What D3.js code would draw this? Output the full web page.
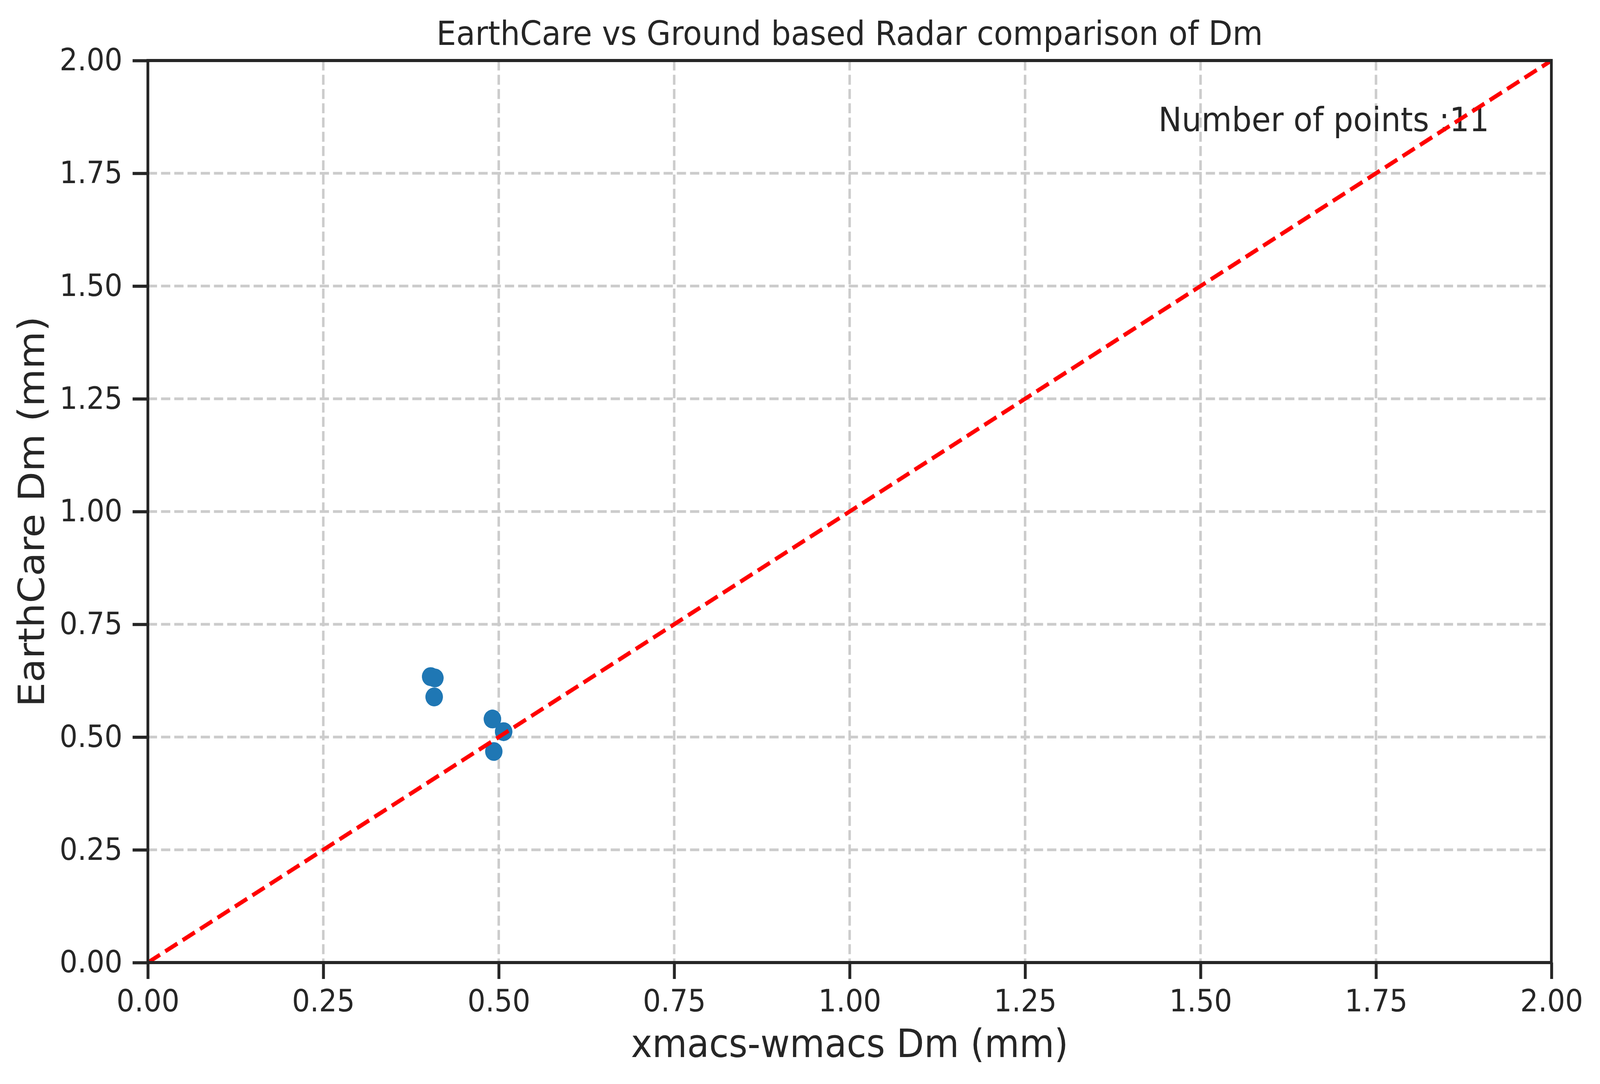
<!DOCTYPE html>
<html>
<head>
<meta charset="utf-8">
<script src="https://cdn.jsdelivr.net/npm/d3@7"></script>
<style>
  html, body { margin: 0; padding: 0; background: #ffffff; overflow: hidden; width: 100%; height: 100%; }
  svg { display: block; position: fixed; left: 0; top: 0; width: 100vw; height: 100vh; }
  text { font-family: "DejaVu Sans", sans-serif; fill: #262626; }
</style>
</head>
<body>
<script>
// ---- data ----
const xmacsDm = [0.403, 0.409, 0.408, 0.491, 0.507, 0.493, 0.403, 0.409, 0.408, 0.491, 0.507];
const earthcareDm = [0.634, 0.631, 0.589, 0.540, 0.512, 0.468, 0.634, 0.631, 0.589, 0.540, 0.512];
const xTicks = [0, 0.25, 0.5, 0.75, 1.0, 1.25, 1.5, 1.75, 2.0];
const yTicks = [0, 0.25, 0.5, 0.75, 1.0, 1.25, 1.5, 1.75, 2.0];
const oneToOne = [[0, 0], [2, 2]];
const titleText = "EarthCare vs Ground based Radar comparison of Dm";
const xLabelText = "xmacs-wmacs Dm (mm)";
const yLabelText = "EarthCare Dm (mm)";
const annotationText = "Number of points :" + xmacsDm.length;

(function () {
// ---- layout ----
const W = 4416, H = 2776;
const pLeft = 408, pRight = 4282, pTop = 155, pBottom = 2465;

const svg = d3.select("body").append("svg")
  .attr("viewBox", `0 0 ${W} ${H}`)
  .attr("preserveAspectRatio", "none");
svg.append("rect").attr("width", W).attr("height", H).attr("fill", "#ffffff");

const x = d3.scaleLinear().domain([0, 2]).range([pLeft, pRight]);
const y = d3.scaleLinear().domain([0, 2]).range([pBottom, pTop]);

// grid
const grid = svg.append("g");
grid.selectAll(".vg").data(xTicks).join("line")
  .attr("x1", d => x(d)).attr("x2", d => x(d))
  .attr("y1", pTop).attr("y2", pBottom)
  .attr("stroke", "#cccccc").attr("stroke-width", 6.9)
  .attr("stroke-dasharray", "25.5,11");
grid.selectAll(".hg").data(yTicks).join("line")
  .attr("y1", d => y(d)).attr("y2", d => y(d))
  .attr("x1", pLeft).attr("x2", pRight)
  .attr("stroke", "#cccccc").attr("stroke-width", 6.9)
  .attr("stroke-dasharray", "25.5,11");

// points
svg.append("g").selectAll("circle").data(xmacsDm.map((v, i) => [v, earthcareDm[i]]))
  .join("circle")
  .attr("cx", d => x(d[0])).attr("cy", d => y(d[1]))
  .attr("r", 24).attr("fill", "#1f77b4");

// annotation text
svg.append("text")
  .attr("x", x(1.44)).attr("y", 336)
  .attr("font-size", 86)
  .text(annotationText);

// 1:1 line
svg.append("path")
  .datum(oneToOne)
  .attr("d", d3.line().x(d => x(d[0])).y(d => y(d[1])))
  .attr("fill", "none").attr("stroke", "#ff0000")
  .attr("stroke-width", 10.6)
  .attr("stroke-dasharray", "39,17");

// axes
const xAxis = d3.axisBottom(x).tickValues(xTicks).tickSize(42).tickPadding(28)
  .tickFormat(d3.format(".2f"));
const yAxis = d3.axisLeft(y).tickValues(yTicks).tickSize(42).tickPadding(28)
  .tickFormat(d3.format(".2f"));

const gx = svg.append("g").attr("transform", `translate(0,${pBottom})`).call(xAxis);
const gy = svg.append("g").attr("transform", `translate(${pLeft},0)`).call(yAxis);
[gx, gy].forEach(g => {
  g.select(".domain").remove();
  g.selectAll(".tick line").attr("stroke", "#262626").attr("stroke-width", 8);
  g.selectAll(".tick text").attr("fill", "#262626")
    .attr("font-size", 78).attr("font-family", "DejaVu Sans, sans-serif");
});

// spines
svg.append("rect")
  .attr("x", pLeft).attr("y", pTop)
  .attr("width", pRight - pLeft).attr("height", pBottom - pTop)
  .attr("fill", "none").attr("stroke", "#262626").attr("stroke-width", 8)
  .attr("stroke-linejoin", "miter");

// title and labels
svg.append("text")
  .attr("x", (pLeft + pRight) / 2).attr("y", 115)
  .attr("text-anchor", "middle").attr("font-size", 86)
  .text(titleText);
svg.append("text")
  .attr("x", (pLeft + pRight) / 2).attr("y", 2707)
  .attr("text-anchor", "middle").attr("font-size", 99)
  .text(xLabelText);
svg.append("text")
  .attr("transform", `translate(122,${(pTop + pBottom) / 2}) rotate(-90)`)
  .attr("text-anchor", "middle").attr("font-size", 99)
  .text(yLabelText);
})();
</script>
</body>
</html>
